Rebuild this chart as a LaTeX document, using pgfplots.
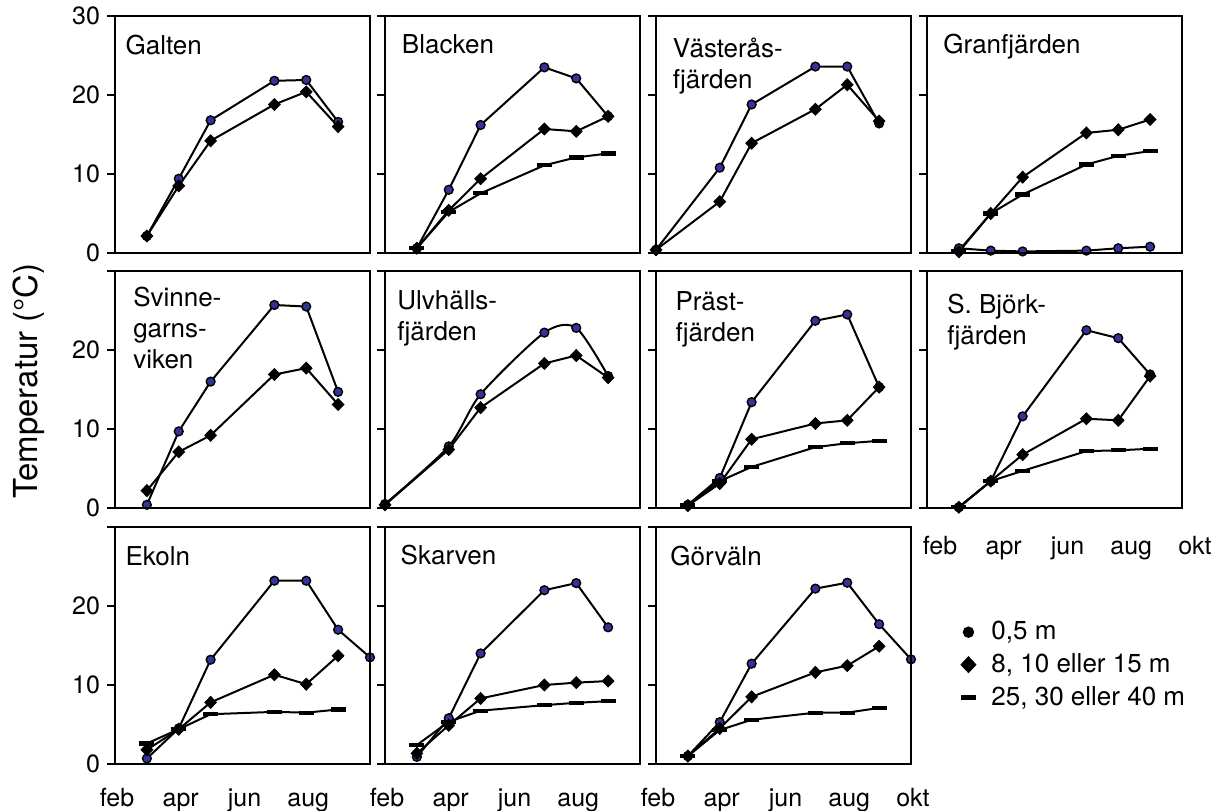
\documentclass[border=0pt]{standalone}
\usepackage{fontspec}
\setmainfont{TeX Gyre Heros}
\usepackage{pgfplots}
\pgfplotsset{compat=1.18}
\definecolor{circblue}{RGB}{51,51,153}
\tikzset{
  ttl/.style={anchor=north west, inner sep=0pt, align=left,
    font=\fontsize{13}{15.5}\selectfont},
}
\pgfplotsset{
  panel/.style={
    scale only axis, width=127.5pt, height=118.5pt,
    anchor=south west,
    axis line style={line width=1.3pt},
    xmin=2, xmax=10, ymin=0, ymax=30,
    xtick={2,4,6,8,10}, ytick={0,10,20,30},
    ytick pos=left,
    tick style={black, line width=0.9pt},
    tick align=outside, major tick length=4pt,
    xtick style={draw=none},
    xticklabels={}, yticklabels={},
    clip=false,
    /pgf/number format/assume math mode=true,
    tick label style={font=\fontsize{12.5}{14}\selectfont},
    xticklabel style={yshift=-4.5pt, xshift=1pt, text height=9pt, text depth=2.6pt},
    after end axis/.code={\draw[line width=1.3pt] (rel axis cs:0,0) rectangle (rel axis cs:1,1);},
  },
  circ/.style={black, line width=1pt, mark=*, mark size=2.2pt,
    mark options={fill=circblue, draw=black, line width=0.7pt}},
  diam/.style={black, line width=1pt, mark=diamond*, mark size=3pt,
    mark options={fill=black, draw=black, line width=0.4pt, xscale=1.3}},
  dsh/.style={black, line width=1pt, mark=-, mark size=3.7pt,
    mark options={line width=2.1pt}},
}
\begin{document}
\begin{tikzpicture}
\path[use as bounding box] (0,0) rectangle (610pt,405pt);

% ---------- Row 1 ----------
\begin{axis}[panel, at={(57.5pt,278.5pt)}, yticklabels={0,10,20,30}]
\addplot[circ] coordinates {(3,2.15)(4,9.4)(5,16.8)(7,21.8)(8,21.9)(9,16.6)};
\addplot[diam] coordinates {(3,2.15)(4,8.5)(5,14.2)(7,18.8)(8,20.4)(9,16.0)};
\node[ttl] at (rel axis cs:0.04,0.92) {Galten};
\end{axis}

\begin{axis}[panel, at={(192.5pt,278.5pt)}]
\addplot[circ] coordinates {(3,0.6)(4,8.0)(5,16.2)(7,23.5)(8,22.1)(9,17.3)};
\addplot[diam] coordinates {(3,0.6)(4,5.4)(5,9.4)(7,15.7)(8,15.4)(9,17.3)};
\addplot[dsh] coordinates {(3,0.6)(4,5.2)(5,7.55)(7,11.1)(8,12.1)(9,12.6)};
\node[ttl] at (rel axis cs:0.065,0.925) {Blacken};
\end{axis}

\begin{axis}[panel, at={(328pt,278.5pt)}]
\addplot[circ] coordinates {(2,0.4)(4,10.8)(5,18.8)(7,23.6)(8,23.6)(9,16.4)};
\addplot[diam] coordinates {(2,0.4)(4,6.5)(5,13.9)(7,18.2)(8,21.3)(9,16.7)};
\node[ttl] at (rel axis cs:0.065,0.91) {Västerås-\\fjärden};
\end{axis}

\begin{axis}[panel, at={(463.5pt,278.5pt)}]
\addplot[circ] coordinates {(3,0.6)(4,0.3)(5,0.2)(7,0.3)(8,0.6)(9,0.8)};
\addplot[diam] coordinates {(3,0.15)(4,5.0)(5,9.6)(7,15.2)(8,15.6)(9,16.9)};
\addplot[dsh] coordinates {(3,0.3)(4,5.0)(5,7.4)(7,11.2)(8,12.3)(9,12.9)};
\node[ttl] at (rel axis cs:0.063,0.925) {Granfjärden};
\end{axis}

% ---------- Row 2 ----------
\begin{axis}[panel, at={(57.5pt,151pt)}, yticklabels={0,10,20,{}}]
\addplot[circ] coordinates {(3,0.4)(4,9.7)(5,16.0)(7,25.7)(8,25.5)(9,14.7)};
\addplot[diam] coordinates {(3,2.2)(4,7.1)(5,9.2)(7,16.9)(8,17.7)(9,13.1)};
\node[ttl] at (rel axis cs:0.07,0.935) {Svinne-\\garns-\\viken};
\end{axis}

\begin{axis}[panel, at={(192.5pt,151pt)}]
\addplot[circ, smooth, tension=0.45] coordinates {(2,0.5)(4,7.8)(5,14.4)(7,22.2)(8,22.8)(9,16.7)};
\addplot[diam] coordinates {(2,0.4)(4,7.4)(5,12.7)(7,18.3)(8,19.3)(9,16.5)};
\node[ttl] at (rel axis cs:0.047,0.92) {Ulvhälls-\\fjärden};
\end{axis}

\begin{axis}[panel, at={(328pt,151pt)}]
\addplot[circ] coordinates {(3,0.4)(4,3.8)(5,13.4)(7,23.7)(8,24.5)(9,15.3)};
\addplot[diam] coordinates {(3,0.3)(4,3.1)(5,8.7)(7,10.7)(8,11.1)(9,15.3)};
\addplot[dsh] coordinates {(3,0.4)(4,3.4)(5,5.2)(7,7.7)(8,8.2)(9,8.5)};
\node[ttl] at (rel axis cs:0.075,0.915) {Präst-\\fjärden};
\end{axis}

\begin{axis}[panel, at={(463.5pt,151pt)}, xticklabels={feb,apr,jun,aug,okt},
  xticklabel style={yshift=-2pt, xshift=5.5pt}]
\addplot[circ] coordinates {(3,0.1)(4,3.4)(5,11.6)(7,22.5)(8,21.5)(9,16.9)};
\addplot[diam] coordinates {(3,0.1)(4,3.4)(5,6.75)(7,11.3)(8,11.1)(9,16.7)};
\addplot[dsh] coordinates {(3,0.1)(4,3.4)(5,4.7)(7,7.2)(8,7.3)(9,7.5)};
\node[ttl] at (rel axis cs:0.078,0.905) {S. Björk-\\fjärden};
\end{axis}

% ---------- Row 3 ----------
\begin{axis}[panel, at={(57.5pt,23pt)}, yticklabels={0,10,20,{}},
  xticklabels={feb,apr,jun,aug,{}}]
\addplot[circ] coordinates {(3,0.7)(4,4.5)(5,13.2)(7,23.2)(8,23.2)(9,17.0)(10,13.5)};
\addplot[diam] coordinates {(3,1.8)(4,4.4)(5,7.8)(7,11.3)(8,10.1)(9,13.7)};
\addplot[dsh] coordinates {(3,2.6)(4,4.4)(5,6.3)(7,6.6)(8,6.5)(9,6.9)};
\node[ttl] at (rel axis cs:0.04,0.92) {Ekoln};
\end{axis}

\begin{axis}[panel, at={(192.5pt,23pt)}, xticklabels={feb,apr,jun,aug,{}}]
\addplot[circ] coordinates {(3,0.9)(4,5.8)(5,14.0)(7,22.0)(8,22.9)(9,17.3)};
\addplot[diam] coordinates {(3,1.35)(4,4.9)(5,8.3)(7,10.0)(8,10.3)(9,10.5)};
\addplot[dsh] coordinates {(3,2.4)(4,5.35)(5,6.75)(7,7.45)(8,7.75)(9,7.95)};
\node[ttl] at (rel axis cs:0.06,0.925) {Skarven};
\end{axis}

\begin{axis}[panel, at={(328pt,23pt)}, xticklabels={feb,apr,jun,aug,okt},
  legend style={at={(1.194,0.418)}, anchor=west, draw=none, fill=none,
    inner sep=0pt, column sep=6.2pt,
    font=\fontsize{13}{15}\selectfont, row sep=2.4pt,
    nodes={inner sep=1.5pt}},
  legend cell align=left,
  legend image code/.code={\draw[#1] plot coordinates {(0pt,0pt)};}]
\addplot[circ, forget plot] coordinates {(3,1.0)(4,5.3)(5,12.7)(7,22.2)(8,22.95)(9,17.7)(10,13.25)};
\addplot[diam, forget plot] coordinates {(3,1.0)(4,4.5)(5,8.5)(7,11.6)(8,12.45)(9,14.9)};
\addplot[dsh, forget plot] coordinates {(3,1.0)(4,4.3)(5,5.6)(7,6.5)(8,6.5)(9,7.1)};
\addlegendimage{mark=*, mark size=2.6pt, fill=black, draw=black, line width=0.5pt}
\addlegendentry{0,5 m}
\addlegendimage{mark=diamond*, mark size=4pt, fill=black, draw=black, line width=0.4pt,
  mark options={xscale=1.25}}
\addlegendentry{8, 10 eller 15 m}
\addlegendimage{mark=-, mark size=3.8pt, draw=black, line width=2.1pt}
\addlegendentry{25, 30 eller 40 m}
\node[ttl] at (rel axis cs:0.055,0.92) {Görväln};
\end{axis}

\node[rotate=90, font=\fontsize{16.5}{18}\selectfont] at (14.5pt,214.5pt) {Temperatur (°C)};
\end{tikzpicture}
\end{document}
